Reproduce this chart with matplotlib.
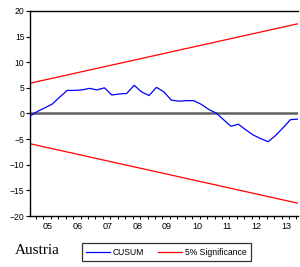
import matplotlib
matplotlib.use("Agg")
import matplotlib.pyplot as plt
import numpy as np

# quarterly CUSUM values
cusum = [-0.5, 0.4, 1.1, 1.85, 3.2, 4.5, 4.5, 4.6, 4.9, 4.6, 5.0, 3.6, 3.8, 3.9,
         5.5, 4.2, 3.5, 5.1, 4.2, 2.6, 2.4, 2.5, 2.5, 1.8, 0.8, 0.1, -1.2, -2.5,
         -2.1, -3.2, -4.2, -4.9, -5.5, -4.3, -2.8, -1.2, -1.1]
band_start = 5.9
band_end = 17.5
year_labels = ["05", "06", "07", "08", "09", "10", "11", "12", "13"]

n = len(cusum)
t = np.arange(n)
upper = band_start + (band_end - band_start) * t / (n - 1)
lower = -upper

plt.rcParams['font.family'] = ['Liberation Sans', 'DejaVu Sans']

fig = plt.figure(figsize=(3.0, 2.67), dpi=100)
ax = fig.add_axes([0.1, 0.191, 0.893, 0.768])

ax.axhline(0, color='#606060', lw=1.8, zorder=1)
l1, = ax.plot(t, cusum, color='#0000ff', lw=0.9, label='CUSUM', zorder=3)
l2, = ax.plot(t, upper, color='#ff0000', lw=0.9, label='5% Significance', zorder=2)
ax.plot(t, lower, color='#ff0000', lw=0.9, zorder=2)

ax.set_xlim(0, n - 1)
ax.set_ylim(-20, 20)
ax.set_yticks(np.arange(-20, 21, 5))
ax.tick_params(axis='y', labelsize=6.2, length=3, width=0.8, pad=1, colors='black')

# quarter ticks, year labels
ax.set_xticks(np.arange(0.8, n - 1, 1.0), minor=True)
ax.set_xticks(2.42 + 4 * np.arange(len(year_labels)))
ax.set_xticklabels(year_labels)
ax.tick_params(axis='x', which='minor', length=2.5, width=0.7)
ax.tick_params(axis='x', which='major', length=0, labelsize=6.5, pad=4)

for s in ['left', 'bottom', 'top']:
    ax.spines[s].set_linewidth(1.0)
ax.spines['right'].set_visible(False)

fig.text(0.05, 0.05, 'Austria', family='Liberation Serif', fontsize=11)
leg = fig.legend(handles=[l1, l2], loc='center', bbox_to_anchor=(0.555, 0.056),
                 ncol=2, fontsize=6.2, frameon=True, fancybox=False,
                 edgecolor='black', handlelength=2.8, handletextpad=0.3,
                 columnspacing=1.6, borderpad=0.5)
leg.get_frame().set_linewidth(0.9)

fig.savefig('out.png', dpi=100)
